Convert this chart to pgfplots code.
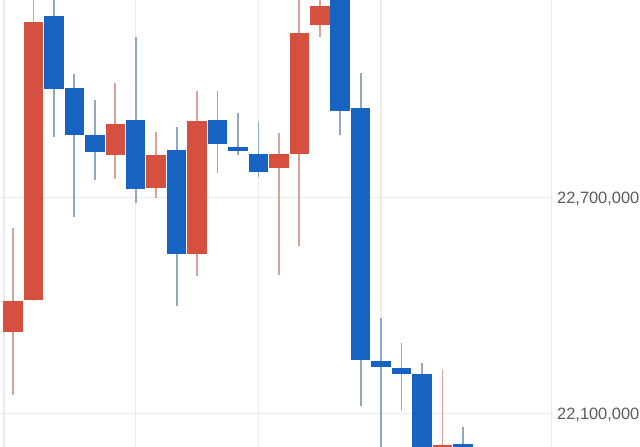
\documentclass[border=0pt]{standalone}
\usepackage{pgfplots}
\pgfplotsset{compat=1.18}
\usepackage{pgfplotstable}
\usepackage{fontspec}
\setmainfont{Liberation Sans}
\definecolor{cred}{HTML}{D6503F}
\definecolor{cblue}{HTML}{1763C2}
\definecolor{wred}{HTML}{D8A39B}
\definecolor{wblue}{HTML}{8FA7C0}
\definecolor{gridc}{HTML}{EBEBEB}
\definecolor{labc}{HTML}{5A5A5A}

\pgfplotstableread{
x open high low close
1 22327000 22615000 22151000 22413000
2 22415000 23280000 22413000 23188000
6 22818000 23018000 22751000 22903000
8 22727000 22881000 22697000 22818000
10 22542000 22996000 22481000 22913000
14 22781000 22878000 22484000 22819000
15 22820000 23270000 22566000 23157000
16 23179000 23270000 23144000 23231000
22 21990000 22220000 21960000 22012000
}\redtab

\pgfplotstableread{
x open high low close
3 23204000 23265000 22868000 23000000
4 23003000 23043000 22646000 22873000
5 22873000 22970000 22748000 22827000
7 22915000 23146000 22683000 22722000
9 22831000 22894000 22398000 22542000
11 22915000 22996000 22767000 22847000
12 22841000 22935000 22818000 22829000
13 22820000 22910000 22757000 22771000
17 23290000 23320000 22873000 22941000
18 22949000 23044000 22120000 22248000
19 22246000 22364000 21980000 22229000
20 22227000 22296000 22109000 22209000
21 22209000 22239000 21950000 21980000
23 22014000 22063000 21960000 21980000
}\bluetab

\begin{document}
\begin{tikzpicture}
\begin{axis}[at={(0,0)}, anchor=south west, scale only axis,
  width=553pt, height=447pt,
  xmin=0.3643, xmax=27.405, ymin=22006330, ymax=23248100,
  axis line style={draw=none}, major tick length=0pt,
  scaled x ticks=false, scaled y ticks=false,
  xtick={0.56,7,13,19,27.33}, xticklabels={},
  ytick={22100000,22700000}, yticklabels={{22,100,000},{22,700,000}},
  yticklabel pos=right,
  yticklabel style={anchor=west, inner sep=0pt, xshift=4pt, yshift=-1.5pt,
    font=\fontsize{16.4}{19}\selectfont, text=labc},
  grid=major, major grid style={draw=gridc, line width=1.5pt},
]
\addplot[draw=none, mark=none, forget plot,
  error bars/.cd, y dir=plus, y explicit, error mark=none,
  error bar style={draw=wred, line width=1.8pt}]
  table[x=x, y=low, y error expr=\thisrow{high}-\thisrow{low}] {\redtab};
\addplot[draw=none, mark=none, forget plot,
  error bars/.cd, y dir=plus, y explicit, error mark=none,
  error bar style={draw=wblue, line width=1.8pt}]
  table[x=x, y=low, y error expr=\thisrow{high}-\thisrow{low}] {\bluetab};
\addplot[draw=none, mark=none, forget plot,
  error bars/.cd, y dir=plus, y explicit, error mark=none,
  error bar style={draw=cred, line width=19.5pt}]
  table[x=x, y=open, y error expr=\thisrow{close}-\thisrow{open}] {\redtab};
\addplot[draw=none, mark=none, forget plot,
  error bars/.cd, y dir=plus, y explicit, error mark=none,
  error bar style={draw=cblue, line width=19.5pt}]
  table[x=x, y=close, y error expr=\thisrow{open}-\thisrow{close}] {\bluetab};
\end{axis}
\pgfresetboundingbox
\useasboundingbox (0,0) rectangle (640pt,447pt);
\end{tikzpicture}
\end{document}
